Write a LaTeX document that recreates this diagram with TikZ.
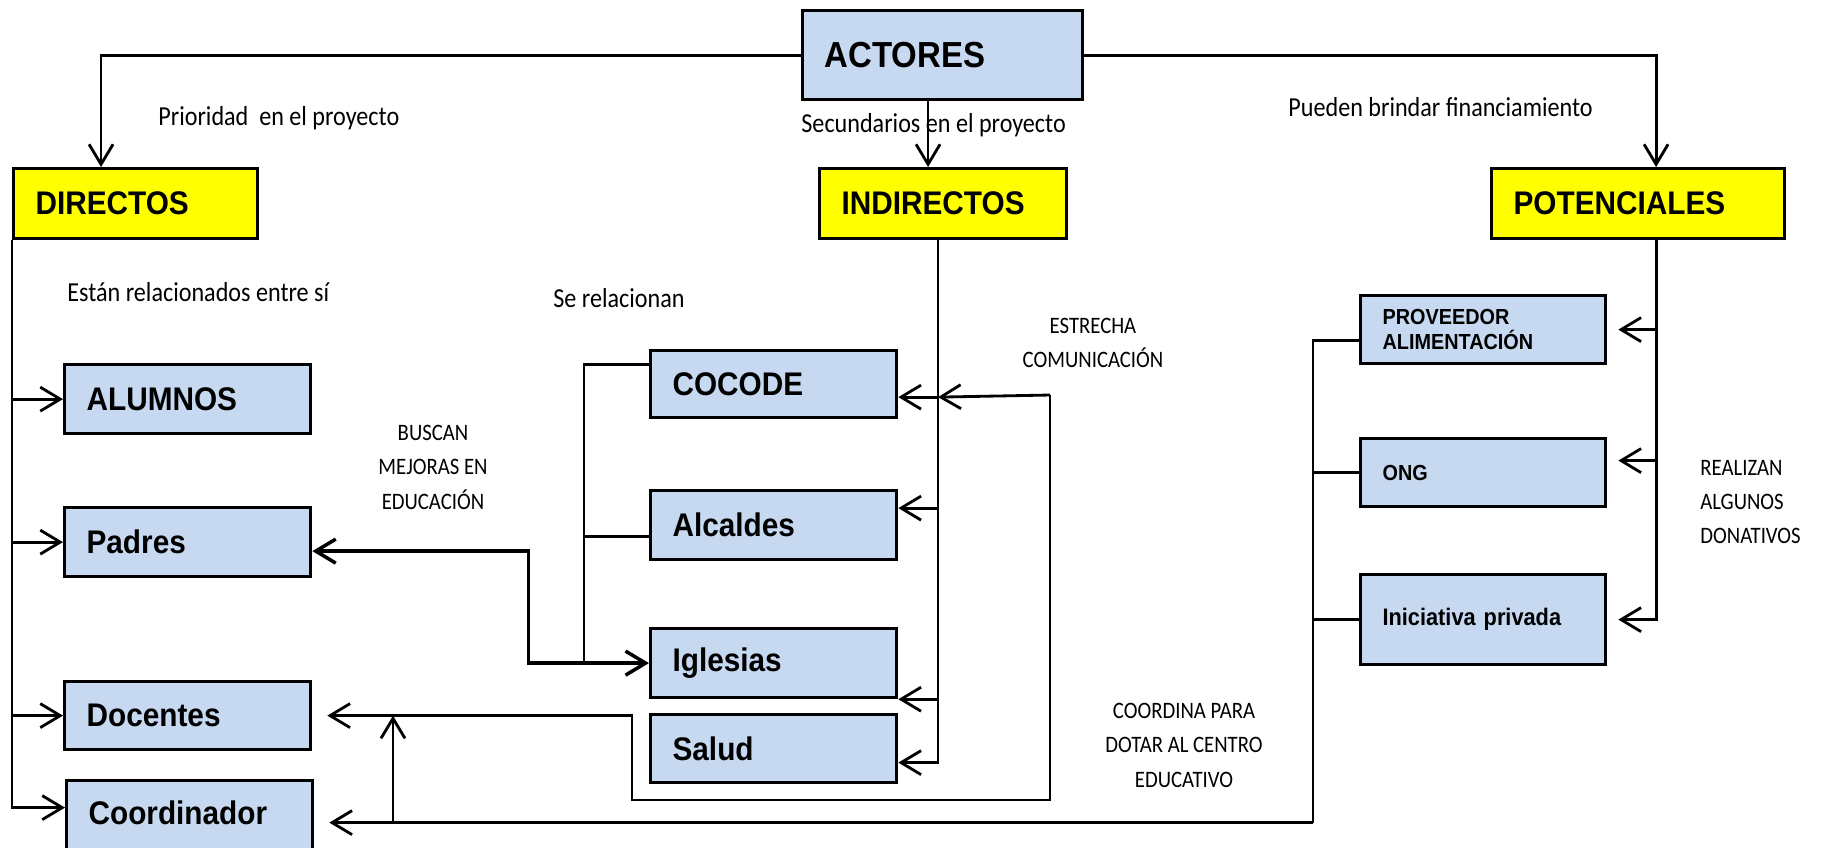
\documentclass[tikz,border=0pt]{standalone}
\usepackage{fontspec}
\usepackage{tikz}
\usetikzlibrary{arrows.meta}
\newfontfamily\arial[FakeStretch=0.91]{Liberation Sans}
\newfontfamily\calib[FakeStretch=0.88]{Carlito}
\definecolor{azul}{HTML}{C6D9F1}
\definecolor{amarillo}{HTML}{FFFF00}
\tikzset{>={Straight Barb[length=2mm,width=2.4mm]}}
\tikzset{
  caja/.style={draw, line width=0.9pt, fill=azul, anchor=north west, inner sep=0pt, inner xsep=0.22cm,
    align=left, text width=2.02cm, minimum height=0.69cm, font=\arial\bfseries\fontsize{9.3}{11}\selectfont},
  grupo/.style={caja, fill=amarillo, minimum height=0.7cm},
  cajachica/.style={caja, text width=2.01cm, font=\arial\bfseries\fontsize{6.2}{7.1}\selectfont},
  etiq/.style={anchor=west, inner sep=0pt, font=\calib\fontsize{7.8}{9.4}\selectfont},
  nota/.style={inner sep=0pt, align=center, font=\calib\fontsize{6.7}{9.8}\selectfont}
}
\begin{document}
\begin{tikzpicture}[x=0.01cm, y=-0.01cm, line width=0.8pt]
        \useasboundingbox (0,0) rectangle (1823,847);

        % ACTORES
        \node[caja, text width=2.36cm, minimum height=0.89cm, font=\arial\bfseries\fontsize{10.3}{12}\selectfont] (actores) at (801,9) {ACTORES};

        % grupos
        \node[grupo, text width=2.0cm] (directos) at (12,167) {DIRECTOS};
        \node[grupo, text width=2.03cm] (indirectos) at (818,167) {INDIRECTOS};
        \node[grupo, text width=2.49cm] (potenciales) at (1490,167) {POTENCIALES};

        \draw[->] (actores.west) -| ([xshift=0.89cm]directos.north west);
        \draw[->] (actores.east) -| ([xshift=1.66cm]potenciales.north west);
        \draw[->] ([xshift=1.27cm]actores.south west) -- ([xshift=1.27cm]actores.south west |- indirectos.north);

        \node[etiq] (prio) at (157,118) {Prioridad\ \ en el proyecto};
        \node[etiq] (secu) at (800,125) {Secundarios en el proyecto};
        \node[etiq] (pued) at (1287,107) {Pueden brindar financiamiento};

        % directos
        \node[caja] (alumnos) at (63,363) {ALUMNOS};
        \node[caja] (padres) at (63,506) {Padres};
        \node[caja, minimum height=0.68cm] (docentes) at (63,680) {Docentes};
        \node[caja, minimum height=0pt, text height=0.44cm, text depth=0.5cm] (coordinador) at (65,779) {Coordinador};

        \node[etiq] (rela) at (66,292) {Están relacionados entre sí};

        \draw[->] (directos.south west) |- ([yshift=0.2cm]coordinador.west);
        \foreach \b in {alumnos, padres, docentes}
            \draw[->] (directos.south west |- \b.west) -- (\b.west);

        % indirectos
        \node[caja, minimum height=0.67cm] (cocode) at (649,349) {COCODE};
        \node[caja] (alcaldes) at (649,489) {Alcaldes};
        \node[caja] (iglesias) at (649,627) {Iglesias};
        \node[caja, minimum height=0.68cm] (salud) at (649,713) {Salud};

        \node[etiq] (serel) at (552,298) {Se relacionan};

        \coordinate (tI) at ([xshift=1.2cm]indirectos.south west);
        \coordinate (cE) at ([yshift=-0.13cm]cocode.east);
        \coordinate (aE) at ([yshift=0.17cm]alcaldes.east);
        \draw[->] (tI) |- ([yshift=-0.14cm]salud.east);
        \draw[->] (tI |- cE) -- (cE);
        \draw[->] (tI |- aE) -- (aE);
        \draw[->] (tI |- iglesias.south east) -- (iglesias.south east);

        % se relacionan
        \coordinate (bI) at ([xshift=-0.65cm]cocode.west);
        \coordinate (aW) at ([yshift=-0.11cm]alcaldes.west);
        \draw ([yshift=0.2cm]cocode.west) -| (bI |- iglesias.west);
        \draw (bI |- aW) -- (aW);

        % buscan mejoras
        \draw[<->, line width=1pt] ([yshift=-0.09cm]padres.east) -- ++(216,0) |- (iglesias.west);
        \node[nota] (busc) at (433,467) {BUSCAN\\MEJORAS EN\\EDUCACIÓN};

        % estrecha comunicacion
        \coordinate (eA) at (1050,395);
        \coordinate (eB) at (632,800);
        \draw[->] (eA) -- (tI |- cE);
        \draw[->] (eA) |- (eB) |- ([xshift=0.15cm]docentes.east);
        \node[nota] (estr) at (1093,343) {ESTRECHA\\COMUNICACIÓN};

        % potenciales
        \node[cajachica, minimum height=0.68cm] (proveedor) at (1359,294) {PROVEEDOR\\ALIMENTACIÓN};
        \node[cajachica, minimum height=0.68cm] (ong) at (1359,437) {ONG};
        \node[cajachica, minimum height=0.9cm, font=\arial\bfseries\fontsize{6.8}{8}\selectfont] (iniciativa) at (1359,573) {Iniciativa privada};

        \coordinate (tP) at ([xshift=1.66cm]potenciales.south west);
        \coordinate (oE) at ([xshift=0.11cm, yshift=0.12cm]ong.east);
        \draw[->] (tP) |- ([xshift=0.11cm]iniciativa.east);
        \draw[->] (tP |- proveedor.east) -- ([xshift=0.11cm]proveedor.east);
        \draw[->] (tP |- oE) -- (oE);
        \node[nota, anchor=west, align=left] (real) at (1699,502) {REALIZAN\\ALGUNOS\\DONATIVOS};

        % coordina
        \coordinate (pB) at ([xshift=-0.46cm]proveedor.west);
        \coordinate (cW) at ([xshift=0.15cm, yshift=0.05cm]coordinador.east);
        \coordinate (up) at (393,0);
        \draw (pB |- cW) |- ([yshift=-0.11cm]proveedor.west);
        \draw (pB |- ong.west) -- (ong.west);
        \draw (pB |- iniciativa.west) -- (iniciativa.west);
        \draw[->] (pB |- cW) -- (cW);
        \draw[->] (up |- cW) -- (up |- docentes.east);
        \node[nota] (coor) at (1184,745) {COORDINA PARA\\DOTAR AL CENTRO\\EDUCATIVO};
    \end{tikzpicture}
\end{document}
